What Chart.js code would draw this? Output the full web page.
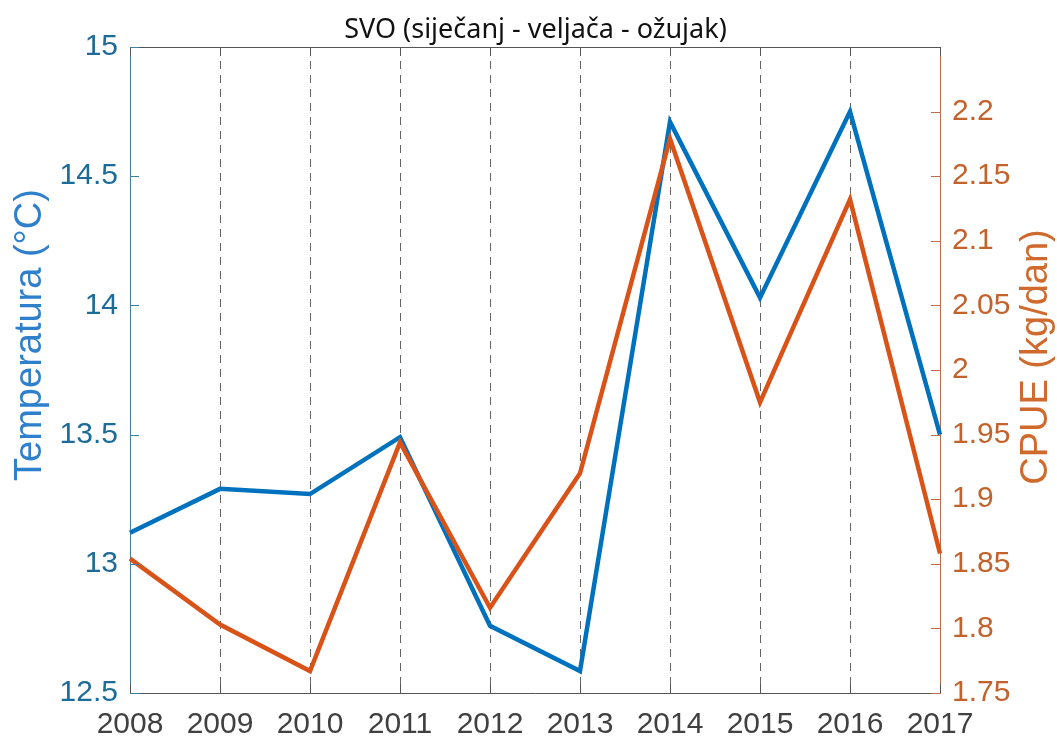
<!DOCTYPE html>
<html>
<head>
<meta charset="utf-8">
<script src="https://cdn.jsdelivr.net/npm/chart.js@4"></script>
<style>
  html, body { margin: 0; padding: 0; background: #fff; }
  #wrap { width: 1057px; height: 754px; }
</style>
</head>
<body>
<div id="wrap"><canvas id="svoChart" width="1057" height="754"></canvas></div>
<script>
// godine i izmjerene vrijednosti
const years = ['2008', '2009', '2010', '2011', '2012', '2013', '2014', '2015', '2016', '2017'];
const temperatura = [13.12, 13.29, 13.27, 13.49, 12.76, 12.585, 14.71, 14.03, 14.75, 13.5];
const cpue = [1.854, 1.803, 1.767, 1.944, 1.816, 1.920, 2.179, 1.975, 2.132, 1.858];

const blue = '#0072BD';
const orange = '#D95319';
const tickFont = { family: '"Liberation Sans", Arial, sans-serif', size: 30 };

// inward tick marks, top border and rotated axis titles
const axisDecor = {
    id: 'axisDecor',
    afterDraw(chart) {
        const ctx = chart.ctx;
        const a = chart.chartArea;
        const yl = chart.scales.yTemp, yr = chart.scales.yCpue, x = chart.scales.x;
        ctx.save();
        ctx.lineWidth = 1;

        ctx.strokeStyle = '#555';
        ctx.beginPath();
        ctx.moveTo(a.left, a.top + 0.5);
        ctx.lineTo(a.right, a.top + 0.5);
        x.ticks.forEach((t, i) => {
            const px = Math.round(x.getPixelForTick(i)) + 0.5;
            ctx.moveTo(px, a.bottom); ctx.lineTo(px, a.bottom - 9);
            ctx.moveTo(px, a.top); ctx.lineTo(px, a.top + 9);
        });
        ctx.stroke();

        ctx.strokeStyle = '#3f7fa5';
        ctx.beginPath();
        yl.ticks.forEach(t => {
            const py = Math.round(yl.getPixelForValue(t.value)) + 0.5;
            ctx.moveTo(a.left, py); ctx.lineTo(a.left + 9, py);
        });
        ctx.stroke();

        ctx.strokeStyle = '#b56f4a';
        ctx.beginPath();
        yr.ticks.forEach(t => {
            if (t.value > 2.24) return;
            const py = Math.round(yr.getPixelForValue(t.value)) + 0.5;
            ctx.moveTo(a.right, py); ctx.lineTo(a.right - 9, py);
        });
        ctx.stroke();

        ctx.font = '38px "Liberation Sans", Arial, sans-serif';
        ctx.textAlign = 'center';
        ctx.textBaseline = 'middle';
        ctx.fillStyle = '#2f80cc';
        ctx.translate(31, 335);
        ctx.rotate(-Math.PI / 2);
        ctx.fillText('Temperatura (°C)', 0, 0);
        ctx.restore();

        ctx.save();
        ctx.font = '38px "Liberation Sans", Arial, sans-serif';
        ctx.textAlign = 'center';
        ctx.textBaseline = 'middle';
        ctx.fillStyle = '#d0692c';
        ctx.translate(1037, 357);
        ctx.rotate(-Math.PI / 2);
        ctx.fillText('CPUE (kg/dan)', 0, 0);
        ctx.restore();
    }
};

new Chart(document.getElementById('svoChart'), {
    type: 'line',
    data: {
        labels: years,
        datasets: [
            {
                label: 'Temperatura',
                data: temperatura,
                yAxisID: 'yTemp',
                borderColor: blue,
                borderWidth: 4.5,
                pointRadius: 0,
                tension: 0,
                order: 1
            },
            {
                label: 'CPUE',
                data: cpue,
                yAxisID: 'yCpue',
                borderColor: orange,
                borderWidth: 4.5,
                pointRadius: 0,
                tension: 0,
                order: 0
            }
        ]
    },
    options: {
        responsive: false,
        animation: false,
        // left padding keeps the title centred over the plot area
        layout: { padding: { left: 14, right: 0, top: 0, bottom: 0 } },
        plugins: {
            legend: { display: false },
            tooltip: { enabled: false },
            title: {
                display: true,
                text: 'SVO (siječanj - veljača - ožujak)',
                color: '#111',
                font: { family: '"Noto Sans", "Open Sans", sans-serif', size: 27, weight: 'normal' },
                padding: { top: 14, bottom: 0.6 }
            }
        },
        scales: {
            x: {
                offset: false,
                grid: {
                    color: '#666',
                    lineWidth: 1,
                    drawTicks: false
                },
                border: { color: '#555', dash: [8, 6] },
                ticks: {
                    color: '#404040',
                    padding: 14,
                    maxRotation: 0,
                    autoSkip: false,
                    font: tickFont
                },
                afterFit(s) { s.height = 61; }
            },
            yTemp: {
                position: 'left',
                min: 12.5,
                max: 15,
                grid: { display: false, drawTicks: false },
                border: { color: '#3f7fa5' },
                ticks: {
                    stepSize: 0.5,
                    color: '#1d6b98',
                    padding: 12,
                    font: tickFont,
                    callback: v => String(+v.toFixed(2))
                },
                afterFit(s) { s.width = 116; }
            },
            yCpue: {
                position: 'right',
                min: 1.75,
                max: 2.25,
                grid: { display: false, drawTicks: false },
                border: { color: '#b56f4a' },
                ticks: {
                    stepSize: 0.05,
                    color: '#c4622b',
                    padding: 12,
                    font: tickFont,
                    callback: v => (v > 2.24 ? '' : String(+v.toFixed(2)))
                },
                afterFit(s) { s.width = 117; }
            }
        }
    },
    plugins: [axisDecor]
});
</script>
</body>
</html>
